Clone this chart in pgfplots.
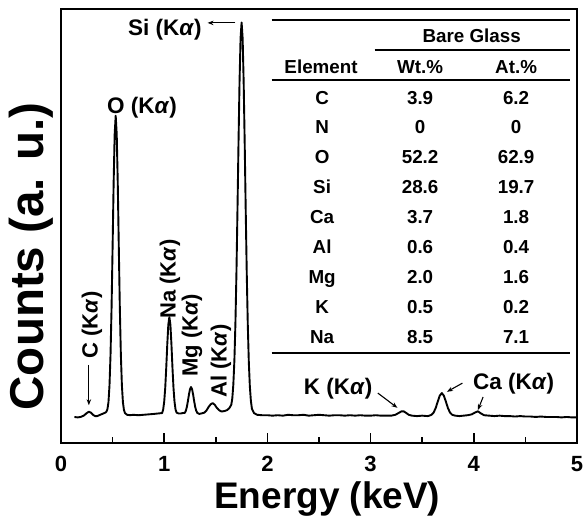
\documentclass[border=0pt]{standalone}
\usepackage{fontspec}
\setmainfont{Liberation Sans}
\usepackage{pgfplots}
\pgfplotsset{compat=1.18}
\usetikzlibrary{arrows.meta}
\newcommand{\ka}{(K\textit{α})}
\newcommand{\fs}[1]{\fontsize{#1}{#1}\selectfont\bfseries}
\begin{document}
\begin{tikzpicture}
\begin{axis}[
  scale only axis, width=516pt, height=434pt,
  xmin=0, xmax=5, ymin=0, ymax=100,
  clip=false,
  axis line style={line width=2pt},
  xtick={0,1,2,3,4,5}, minor x tick num=1, xtick pos=bottom, tick align=inside,
  ytick=\empty,
  major tick length=10pt, minor tick length=6pt,
  every tick/.style={line width=1.6pt, black},
  /pgf/number format/assume math mode=true,
  xticklabel style={font=\fs{22}, yshift=-10pt},
  xlabel={Energy (keV)}, ylabel={Counts (a. u.)},
  xlabel style={font=\fs{37}, at={(axis description cs:0.516,-0.15)}, anchor=base},
  ylabel style={font=\fs{47.5}, at={(axis description cs:-0.058,0.43)}, anchor=center},
]
\addplot[black, line width=1.9pt, line join=round] coordinates {
(0.13,6.0) (0.16,5.9) (0.19,6.0) (0.22,6.3) (0.25,6.9) (0.27,7.2) (0.29,7.0) (0.31,6.5) (0.33,6.2) (0.35,6.2) (0.37,6.4) (0.39,6.6) (0.41,6.8) (0.43,7.0)
(0.44,7.2) (0.45,7.8) (0.46,9.4) (0.47,13.3) (0.48,20.4) (0.49,31.2) (0.50,45.2) (0.51,59.9) (0.52,71.1) (0.53,75.4) (0.54,71.1) (0.55,59.9) (0.56,45.2) (0.57,31.2) (0.58,20.4) (0.59,13.3) (0.60,9.4) (0.61,7.6) (0.62,6.9) (0.64,6.5) (0.67,6.4) (0.70,6.5) (0.75,6.4) (0.80,6.5) (0.85,6.6) (0.90,6.7) (0.94,6.8)
(0.98,6.9) (0.99,7.7) (1.00,9.5) (1.01,12.7) (1.02,17.4) (1.03,22.8) (1.04,27.3) (1.05,29.0) (1.06,27.3) (1.07,22.8) (1.08,17.4) (1.09,12.7) (1.10,9.5) (1.11,7.7) (1.12,7.0) (1.14,6.8) (1.16,6.8) (1.18,6.9)
(1.20,6.95) (1.21,7.45) (1.22,8.35) (1.23,9.7) (1.24,11.2) (1.25,12.4) (1.26,12.9) (1.27,12.4) (1.28,11.2) (1.29,9.7) (1.30,8.35) (1.31,7.45) (1.32,6.95) (1.34,6.7) (1.36,6.8)
(1.39,7.0) (1.41,7.5) (1.43,8.3) (1.45,8.9) (1.47,9.2) (1.49,8.8) (1.51,8.1) (1.53,7.6) (1.55,7.3) (1.57,7.3) (1.59,7.4) (1.61,7.6) (1.63,8.0) (1.65,8.8)
(1.66,10.3) (1.67,13.5) (1.68,18.9) (1.69,27.4) (1.70,39.1) (1.71,53.6) (1.72,69.1) (1.73,83.2) (1.74,93.3) (1.75,96.9) (1.76,93.3) (1.77,83.2) (1.78,69.1) (1.79,53.5) (1.80,39.0) (1.81,27.2) (1.82,18.6) (1.83,13.0) (1.84,9.7) (1.85,7.9) (1.87,6.9) (1.90,6.5) (1.95,6.4)
(2.00,6.4) (2.05,6.3) (2.10,6.4) (2.15,6.3) (2.20,6.5) (2.25,6.4) (2.30,6.4) (2.35,6.5) (2.40,6.3) (2.45,6.4) (2.50,6.5) (2.55,6.4) (2.60,6.3) (2.65,6.4) (2.70,6.4) (2.75,6.3) (2.80,6.4) (2.85,6.3) (2.90,6.4) (2.95,6.3) (3.00,6.3) (3.05,6.4) (3.10,6.3) (3.15,6.3) (3.20,6.3)
(3.24,6.5) (3.27,6.9) (3.30,7.3) (3.32,7.3) (3.34,7.0) (3.37,6.5) (3.40,6.3) (3.45,6.2) (3.50,6.3) (3.55,6.2) (3.57,6.3)
(3.59,6.5) (3.61,7.0) (3.63,8.0) (3.65,9.5) (3.67,10.9) (3.69,11.5) (3.71,10.9) (3.73,9.5) (3.75,8.0) (3.77,7.0) (3.79,6.5) (3.82,6.3) (3.86,6.2) (3.90,6.3) (3.94,6.4) (3.98,6.6)
(4.01,7.0) (4.04,7.3) (4.07,6.8) (4.10,6.4) (4.15,6.3) (4.20,6.2) (4.25,6.3) (4.30,6.2) (4.35,6.2) (4.40,6.1) (4.45,6.2) (4.50,6.1) (4.55,6.1) (4.60,6.0) (4.65,6.1) (4.70,6.0) (4.75,6.0) (4.80,6.0) (4.85,5.9) (4.90,6.0) (4.95,5.9) (5.00,5.9)
};
% peak annotations
\node[font=\fs{22.5}, anchor=base] at (axis cs:1.007,93.8) {Si \ka};
\draw[-{Stealth[length=6pt,width=4.5pt]}, line width=1.1pt] (axis cs:1.69,96.8) -- (axis cs:1.42,96.8);
\node[font=\fs{22.5}, anchor=base] at (axis cs:0.784,76.0) {O \ka};
\node[font=\fs{22}, rotate=90, anchor=center] at (axis cs:1.055,37.8) {Na \ka};
\node[font=\fs{22}, rotate=90, anchor=center] at (axis cs:1.27,24.8) {Mg \ka};
\node[font=\fs{22}, rotate=90, anchor=center] at (axis cs:1.55,18.9) {Al \ka};
\node[font=\fs{22}, rotate=90, anchor=center] at (axis cs:0.30,27.2) {C \ka};
\draw[-{Stealth[length=6pt,width=4.5pt]}, line width=1.1pt] (axis cs:0.27,18) -- (axis cs:0.27,8.7);
\node[font=\fs{22.5}, anchor=base] at (axis cs:2.686,11.06) {K \ka};
\draw[-{Stealth[length=6pt,width=4.5pt]}, line width=1.1pt] (axis cs:3.07,11.5) -- (axis cs:3.26,8.1);
\node[font=\fs{22.5}, anchor=base] at (axis cs:4.385,12.4) {Ca \ka};
\draw[-{Stealth[length=6pt,width=4.5pt]}, line width=1.1pt] (axis cs:3.89,13.8) -- (axis cs:3.74,11.8);
\draw[-{Stealth[length=6pt,width=4.5pt]}, line width=1.1pt] (axis cs:4.09,10.6) -- (axis cs:4.04,7.6);
% table
\draw[line width=1.6pt] (axis cs:2.04,97.5) -- (axis cs:4.93,97.5);
\draw[line width=1.6pt] (axis cs:3.04,90.6) -- (axis cs:4.93,90.6);
\draw[line width=1.6pt] (axis cs:2.04,83.6) -- (axis cs:4.93,83.6);
\draw[line width=1.6pt] (axis cs:2.04,20.8) -- (axis cs:4.93,20.8);
\node[font=\fs{18.8}] at (axis cs:3.98,93.8) {Bare Glass};
\node[font=\fs{18.8}] at (axis cs:2.52,86.7) {Element};
\node[font=\fs{18.8}] at (axis cs:3.48,86.7) {Wt.\%};
\node[font=\fs{18.8}] at (axis cs:4.41,86.7) {At.\%};
\foreach \el/\wt/\at/\yy in {C/3.9/6.2/79.6, N/0/0/72.7, O/52.2/62.9/65.8, Si/28.6/19.7/58.9, Ca/3.7/1.8/52.0, Al/0.6/0.4/45.1, Mg/2.0/1.6/38.2, K/0.5/0.2/31.3, Na/8.5/7.1/24.4}{
  \edef\tmp{\noexpand\node[font=\noexpand\fs{18.8}, anchor=base] at (axis cs:2.53,\yy-1.5) {\el};
    \noexpand\node[font=\noexpand\fs{18.8}, anchor=base] at (axis cs:3.48,\yy-1.5) {\wt};
    \noexpand\node[font=\noexpand\fs{18.8}, anchor=base] at (axis cs:4.41,\yy-1.5) {\at};}
  \tmp
}
\end{axis}
\path ([shift={(-61pt,-85pt)}]current axis.south west) rectangle ([shift={(10pt,9pt)}]current axis.north east);
\end{tikzpicture}
\end{document}
